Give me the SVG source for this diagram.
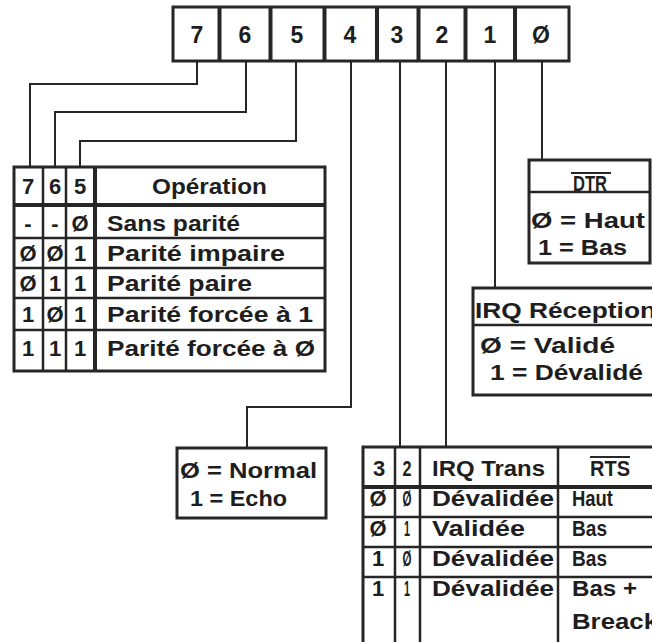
<svg xmlns="http://www.w3.org/2000/svg" width="652" height="642" viewBox="0 0 652 642">
<style>
.bg{fill:#ffffff}
.box{fill:#ffffff;stroke:#262626;stroke-width:3}
.div{stroke:#262626;stroke-width:2.5;fill:none}
.thick{stroke:#262626;stroke-width:4;fill:none}
.conn{stroke:#262626;stroke-width:2;fill:none}
text{font-family:"Liberation Sans","DejaVu Sans",Arial,sans-serif;font-weight:bold;font-size:22px;fill:#1e1e1e}
.c{text-anchor:middle}
.big{font-size:23px}
</style>
<rect class="bg" x="0" y="0" width="652" height="642"/>

<g id="connectors">
<path class="conn" d="M197 61 V84 H30 V167"/>
<path class="conn" d="M246 61 V112 H55 V167"/>
<path class="conn" d="M296 61 V141 H80 V167"/>
<path class="conn" d="M351 61 V407 H247 V448"/>
<path class="conn" d="M400 61 V447"/>
<path class="conn" d="M446 61 V447"/>
<path class="conn" d="M495 61 V288"/>
<path class="conn" d="M542 61 V160"/>
</g>

<g id="register">
<rect class="box" x="173" y="7" width="396" height="54" stroke-width="4"/>
<path class="thick" d="M219.5 7 V61 M270.5 7 V61 M324.5 7 V61 M377 7 V61 M418.5 7 V61 M465.5 7 V61 M515 7 V61" stroke-width="5"/>
<text class="c big" x="197" y="43">7</text>
<text class="c big" x="245" y="43">6</text>
<text class="c big" x="297" y="43">5</text>
<text class="c big" x="350" y="43">4</text>
<text class="c big" x="397" y="43">3</text>
<text class="c big" x="442" y="43">2</text>
<text class="c big" x="490" y="43">1</text>
<text class="c big" x="541" y="43">Ø</text>
</g>

<g id="operation-table">
<rect class="box" x="14" y="167" width="311" height="204"/>
<path class="div" d="M43 167 V371 M66 167 V371"/>
<path class="thick" d="M95 167 V371 M14 205 H325"/>
<path class="div" d="M14 238 H325 M14 268 H325 M14 298 H325 M14 330 H325"/>
<text class="c" x="28" y="194">7</text>
<text class="c" x="55" y="194">6</text>
<text class="c" x="80" y="194">5</text>
<text x="152" y="194" textLength="115" lengthAdjust="spacingAndGlyphs">Opération</text>
<text class="c" x="28" y="231">-</text>
<text class="c" x="55" y="231">-</text>
<text class="c" x="80" y="231">Ø</text>
<text x="107" y="231" textLength="133" lengthAdjust="spacingAndGlyphs">Sans parité</text>
<text class="c" x="28" y="261">Ø</text>
<text class="c" x="55" y="261">Ø</text>
<text class="c" x="80" y="261">1</text>
<text x="107" y="261" textLength="178" lengthAdjust="spacingAndGlyphs">Parité impaire</text>
<text class="c" x="28" y="291">Ø</text>
<text class="c" x="55" y="291">1</text>
<text class="c" x="80" y="291">1</text>
<text x="107" y="291" textLength="145" lengthAdjust="spacingAndGlyphs">Parité paire</text>
<text class="c" x="28" y="322">1</text>
<text class="c" x="55" y="322">Ø</text>
<text class="c" x="80" y="322">1</text>
<text x="107" y="322" textLength="206" lengthAdjust="spacingAndGlyphs">Parité forcée à 1</text>
<text class="c" x="28" y="356">1</text>
<text class="c" x="55" y="356">1</text>
<text class="c" x="80" y="356">1</text>
<text x="107" y="356" textLength="208" lengthAdjust="spacingAndGlyphs">Parité forcée à Ø</text>
</g>

<g id="echo-box">
<rect class="box" x="177" y="448" width="149" height="70"/>
<text x="180" y="478" textLength="137" lengthAdjust="spacingAndGlyphs">Ø = Normal</text>
<text x="190" y="506" textLength="97" lengthAdjust="spacingAndGlyphs">1 = Echo</text>
</g>

<g id="dtr-box">
<rect class="box" x="529" y="160" width="121" height="103"/>
<path class="div" d="M529 192 H650"/>
<path class="conn" d="M571 173 H611"/>
<text x="573" y="191" textLength="34" lengthAdjust="spacingAndGlyphs">DTR</text>
<text x="531" y="228" textLength="114" lengthAdjust="spacingAndGlyphs">Ø = Haut</text>
<text x="538" y="255" textLength="89" lengthAdjust="spacingAndGlyphs">1 = Bas</text>
</g>

<g id="irq-reception-box">
<rect class="box" x="473" y="288" width="190" height="107"/>
<path class="div" d="M473 325 H663"/>
<text x="475" y="318" textLength="181" lengthAdjust="spacingAndGlyphs">IRQ Réception</text>
<text x="480" y="353" textLength="135" lengthAdjust="spacingAndGlyphs">Ø = Validé</text>
<text x="490" y="380" textLength="153" lengthAdjust="spacingAndGlyphs">1 = Dévalidé</text>
</g>

<g id="trans-table">
<rect class="box" x="363" y="447" width="300" height="210"/>
<path class="div" d="M395 447 V657 M420 447 V657 M558 447 V657"/>
<path class="thick" d="M363 487 H663"/>
<path class="div" d="M363 517 H663 M363 547 H663 M363 577 H663"/>
<text class="c" x="379" y="476">3</text>
<text class="c" x="407" y="476" textLength="9" lengthAdjust="spacingAndGlyphs">2</text>
<text x="432" y="476" textLength="113" lengthAdjust="spacingAndGlyphs">IRQ Trans</text>
<path class="conn" d="M590 457 H630"/>
<text x="590" y="476" textLength="40" lengthAdjust="spacingAndGlyphs">RTS</text>
<text class="c" x="378" y="506">Ø</text>
<text class="c" x="407" y="506" textLength="9" lengthAdjust="spacingAndGlyphs">Ø</text>
<text x="432" y="506" textLength="122" lengthAdjust="spacingAndGlyphs">Dévalidée</text>
<text x="572" y="506" textLength="41" lengthAdjust="spacingAndGlyphs">Haut</text>
<text class="c" x="378" y="536">Ø</text>
<text class="c" x="407" y="536" textLength="6" lengthAdjust="spacingAndGlyphs">1</text>
<text x="432" y="536" textLength="93" lengthAdjust="spacingAndGlyphs">Validée</text>
<text x="572" y="536" textLength="35" lengthAdjust="spacingAndGlyphs">Bas</text>
<text class="c" x="378" y="566">1</text>
<text class="c" x="407" y="566" textLength="9" lengthAdjust="spacingAndGlyphs">Ø</text>
<text x="432" y="566" textLength="122" lengthAdjust="spacingAndGlyphs">Dévalidée</text>
<text x="572" y="566" textLength="35" lengthAdjust="spacingAndGlyphs">Bas</text>
<text class="c" x="378" y="596">1</text>
<text class="c" x="407" y="596" textLength="6" lengthAdjust="spacingAndGlyphs">1</text>
<text x="432" y="596" textLength="122" lengthAdjust="spacingAndGlyphs">Dévalidée</text>
<text x="572" y="596" textLength="65" lengthAdjust="spacingAndGlyphs">Bas +</text>
<text x="572" y="629" textLength="86" lengthAdjust="spacingAndGlyphs">Breack</text>
</g>
</svg>
